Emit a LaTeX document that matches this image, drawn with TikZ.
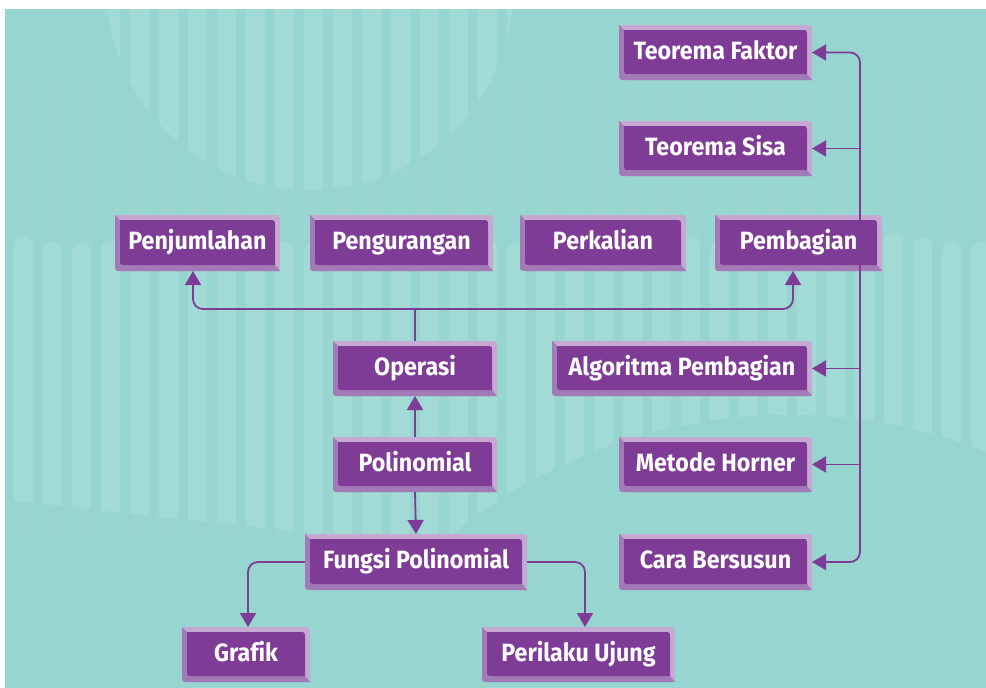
\documentclass[tikz,border=0pt]{standalone}
\usepackage{fontspec}
\newfontfamily\boxfont[FakeStretch=0.93,Ligatures=NoCommon]{Fira Sans}
\usetikzlibrary{arrows.meta}
\definecolor{bg}{HTML}{97D5D1}
\definecolor{stripe}{HTML}{A2DAD6}
\definecolor{faint}{HTML}{99D6D2}
\definecolor{face}{HTML}{7E3C96}
\definecolor{lav}{HTML}{C6A9D3}
\definecolor{med}{HTML}{A27AB7}
\tikzset{
  boxtext/.style={text=white, font=\boxfont\bfseries\fontsize{25}{25}\selectfont, inner sep=0pt, text height=17pt, text depth=0pt, anchor=center},
  boxnode/.style={inner sep=0pt, outer sep=0pt},
  conn/.style={draw=face, line width=1.8pt, rounded corners=10pt},
  tip/.style={-{Triangle[length=14pt,width=16pt]}},
  tips/.style={{Triangle[length=14pt,width=16pt]}-{Triangle[length=14pt,width=16pt]}},
}
% #1 name, #2 x1, #3 y1, #4 x2, #5 y2, #6 text
\newcommand\bbox[6]{%
  \fill[lav] (#2,#3) -- ({#4-7},#3) .. controls (#4,#3) .. (#4,{#3+7}) -- (#4,#5) -- ({#2+7},#5) .. controls (#2,#5) .. (#2,{#5-7}) -- cycle;
  \begin{scope}
    \clip (#2,#3) -- ({#4-7},#3) .. controls (#4,#3) .. (#4,{#3+7}) -- (#4,#5) -- ({#2+7},#5) .. controls (#2,#5) .. (#2,{#5-7}) -- cycle;
    \fill[med] (#2,#3) -- ({#2+5},{#3+5}) -- ({#4-5},{#5-6}) -- (#4,#5) -- (#2,#5) -- cycle;
  \end{scope}
  \fill[face] ({#2+5},{#3+5}) -- ({#4-11},{#3+5}) .. controls ({#4-5},{#3+5}) .. ({#4-5},{#3+11}) -- ({#4-5},{#5-6}) -- ({#2+11},{#5-6}) .. controls ({#2+5},{#5-6}) .. ({#2+5},{#5-12}) -- cycle;
  \node[boxtext] (#1-t) at ({(#2+#4)/2},{(#3+#5)/2-2}) {#6};
  \node[boxnode, minimum width={(#4-#2)*1pt}, minimum height={(#5-#3)*1pt}] (#1) at ({(#2+#4)/2},{(#3+#5)/2}) {};
}
\begin{document}
\begin{tikzpicture}[x=1pt,y=-1pt]
\useasboundingbox (0,0) rectangle (986,688);
\fill[white] (0,0) rectangle (986,688);
\fill[bg] (5,9) rectangle (986,688);
% background stripes
\begin{scope}
  \clip (5,9) rectangle (986,688);
  \begin{scope}
    \clip (5,80) rectangle (986,540);
    \foreach \k in {0,...,33} \fill[faint] ({14+29*\k},80) rectangle ++(19,460);
  \end{scope}
  \begin{scope}
    \clip (310,-14) circle[radius=204pt];
    \foreach \k in {2,...,18} \fill[stripe] ({14+29*\k},0) rectangle ++(19,220);
  \end{scope}
  \begin{scope}
    \clip (5,225) -- (986,225) -- (986,600) -- (520,548) .. controls (350,540) and (150,515) .. (5,500) -- cycle;
    \foreach \k in {0,...,33} \fill[stripe, rounded corners=9pt] ({14+29*\k},{236+7*sin(\k*47)}) rectangle ++(19,400);
  \end{scope}
  \fill[bg] (790,952) circle[radius=537pt];
\end{scope}
% boxes
\bbox{tf}{619}{25}{812}{80}{Teorema Faktor}
\bbox{ts}{619}{121}{812}{176}{Teorema Sisa}
\bbox{penj}{115}{215}{280}{271}{Penjumlahan}
\bbox{peng}{310}{215}{493}{271}{Pengurangan}
\bbox{perk}{520}{215}{686}{271}{Perkalian}
\bbox{pemb}{715}{215}{882}{271}{Pembagian}
\bbox{ops}{333}{341}{497}{396}{Operasi}
\bbox{algo}{552}{341}{812}{396}{Algoritma Pembagian}
\bbox{poly}{333}{437}{497}{492}{Polinomial}
\bbox{mh}{619}{437}{812}{492}{Metode Horner}
\bbox{fp}{305}{534}{527}{590}{Fungsi Polinomial}
\bbox{cb}{619}{534}{812}{590}{Cara Bersusun}
\bbox{gr}{182}{627}{310}{682}{Grafik}
\bbox{pu}{482}{627}{675}{682}{Perilaku Ujung}
% connectors
\coordinate (jn) at (415,309);
\coordinate (tr) at (860,300);
\draw[conn, tips] ([xshift=-4.5pt]penj.south) |- (jn) -| ([xshift=-5.5pt]pemb.south);
\draw[conn] (ops.north) -- (jn);
\draw[conn, tip] (poly.north) -- (ops.south);
\draw[conn, tip] (poly.south) -- (fp.north);
\draw[conn, tip] (fp.west) -| ([xshift=2pt]gr.north);
\draw[conn, tip] (fp.east) -| ([xshift=6.5pt]pu.north);
\draw[conn, tips] (tf.east) -| ([xshift=48pt]cb.east) -- (cb.east);
\draw[conn, tip] (ts.east -| tr) -- (ts.east);
\draw[conn, tip] (algo.east -| tr) -- (algo.east);
\draw[conn, tip] (mh.east -| tr) -- (mh.east);
\end{tikzpicture}
\end{document}
